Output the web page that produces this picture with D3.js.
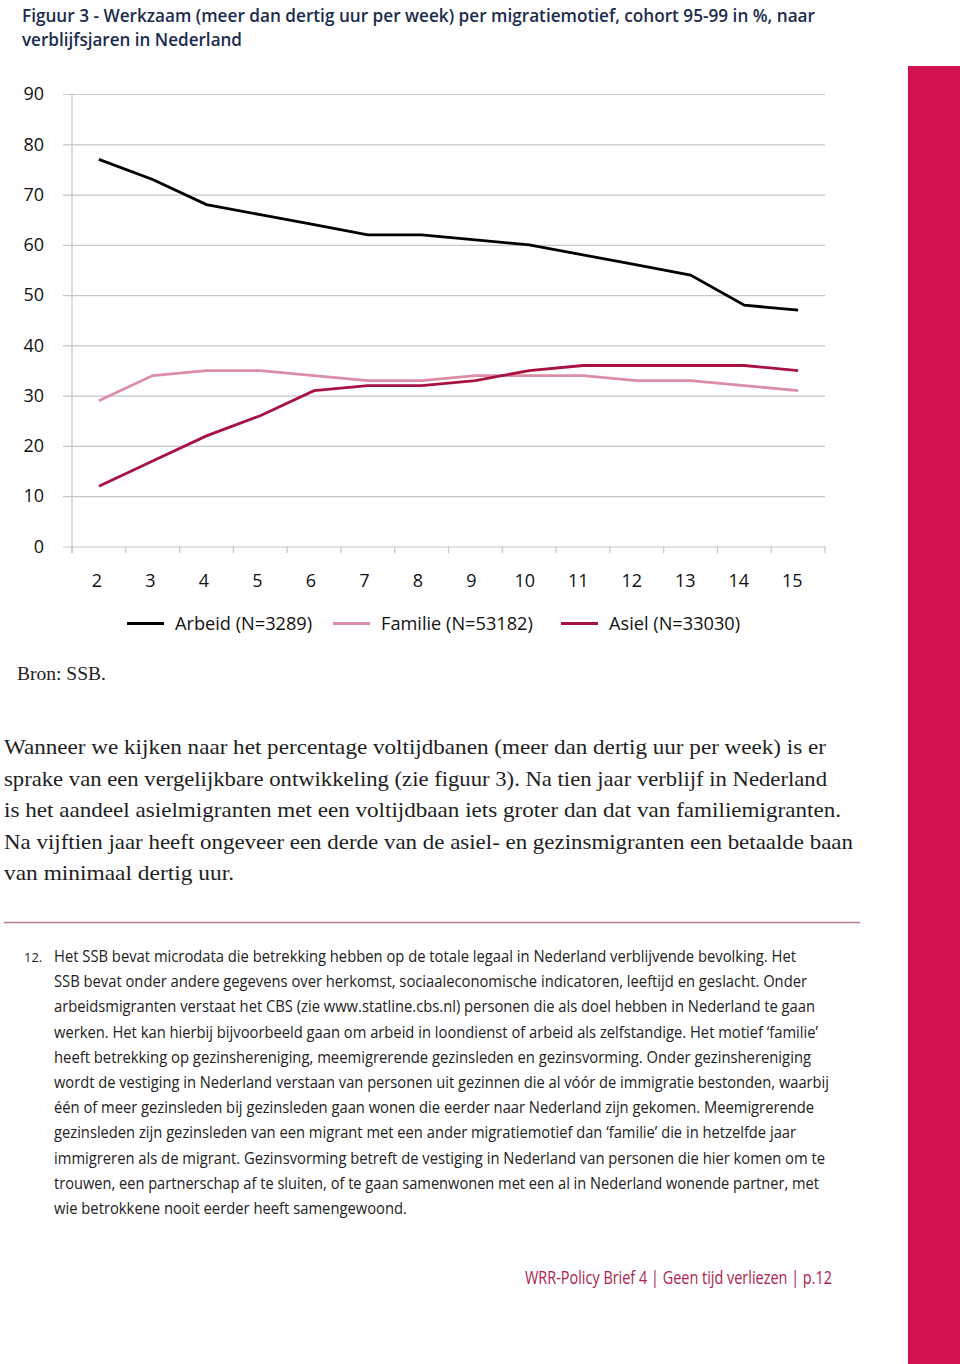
<!DOCTYPE html>
<html>
<head>
<meta charset="utf-8">
<script src="https://cdn.jsdelivr.net/npm/d3@7"></script>
<style>
  html, body { margin: 0; padding: 0; background: #fff; }
  svg { display: block; }
</style>
</head>
<body>
<script>
// ---- data ----
const years   = [2, 3, 4, 5, 6, 7, 8, 9, 10, 11, 12, 13, 14, 15];
const arbeid  = [77, 73, 68, 66, 64, 62, 62, 61, 60, 58, 56, 54, 48, 47];
const familie = [29, 34, 35, 35, 34, 33, 33, 34, 34, 34, 33, 33, 32, 31];
const asiel   = [12, 17, 22, 26, 31, 32, 32, 33, 35, 36, 36, 36, 36, 35];
const yTicks  = [0, 10, 20, 30, 40, 50, 60, 70, 80, 90];
const seriesNames = ["Arbeid (N=3289)", "Familie (N=53182)", "Asiel (N=33030)"];
const seriesColors = ["#000000", "#dc8ea4", "#a7123f"];

const titleLines = [
  "Figuur 3 - Werkzaam (meer dan dertig uur per week) per migratiemotief, cohort 95-99 in %, naar",
  "verblijfsjaren in Nederland"
];
const bodyLines = [
  "Wanneer we kijken naar het percentage voltijdbanen (meer dan dertig uur per week) is er",
  "sprake van een vergelijkbare ontwikkeling (zie figuur 3). Na tien jaar verblijf in Nederland",
  "is het aandeel asielmigranten met een voltijdbaan iets groter dan dat van familiemigranten.",
  "Na vijftien jaar heeft ongeveer een derde van de asiel- en gezinsmigranten een betaalde baan",
  "van minimaal dertig uur."
];
const bodyEnds = [826, 827, 841, 853, 234];
const noteLines = [
  "Het SSB bevat microdata die betrekking hebben op de totale legaal in Nederland verblijvende bevolking. Het",
  "SSB bevat onder andere gegevens over herkomst, sociaaleconomische indicatoren, leeftijd en geslacht. Onder",
  "arbeidsmigranten verstaat het CBS (zie www.statline.cbs.nl) personen die als doel hebben in Nederland te gaan",
  "werken. Het kan hierbij bijvoorbeeld gaan om arbeid in loondienst of arbeid als zelfstandige. Het motief \u2018familie\u2019",
  "heeft betrekking op gezinshereniging, meemigrerende gezinsleden en gezinsvorming. Onder gezinshereniging",
  "wordt de vestiging in Nederland verstaan van personen uit gezinnen die al v\u00f3\u00f3r de immigratie bestonden, waarbij",
  "\u00e9\u00e9n of meer gezinsleden bij gezinsleden gaan wonen die eerder naar Nederland zijn gekomen. Meemigrerende",
  "gezinsleden zijn gezinsleden van een migrant met een ander migratiemotief dan \u2018familie\u2019 die in hetzelfde jaar",
  "immigreren als de migrant. Gezinsvorming betreft de vestiging in Nederland van personen die hier komen om te",
  "trouwen, een partnerschap af te sluiten, of te gaan samenwonen met een al in Nederland wonende partner, met",
  "wie betrokkene nooit eerder heeft samengewoond."
];
const noteEnds = [796, 807, 815, 818, 811, 829, 814, 796, 825, 819, 407];

// ---- svg ----
const W = 960, H = 1364;
const svg = d3.select("body").append("svg").attr("width", W).attr("height", H);

// sidebar
svg.append("rect").attr("x", 908).attr("y", 66).attr("width", 52).attr("height", H - 66).attr("fill", "#d4114f");

// title
const sans = "'Open Sans', Lato, sans-serif";
const serif = "'Liberation Serif', 'DejaVu Serif', serif";
titleLines.forEach((t, i) => {
  const el = svg.append("text").attr("x", 22).attr("y", 22 + i * 24)
    .attr("font-family", sans).attr("font-weight", 600).attr("font-size", 18.5)
    .attr("fill", "#1b2c4e").text(t);
  el.attr("textLength", i === 0 ? 793 : 220).attr("lengthAdjust", "spacingAndGlyphs");
});

// scales
const x = d3.scaleBand().domain(years).range([72, 825]);
const y = d3.scaleLinear().domain([0, 90]).range([546.5, 94]);

// gridlines + y labels
const gy = svg.append("g").attr("transform", "translate(63,0)")
  .call(d3.axisLeft(y).tickValues(yTicks).tickSize(-(825 - 63)).tickPadding(19));
gy.select(".domain").remove();
gy.selectAll(".tick line").attr("stroke", "#c6c6c6").attr("stroke-width", 1.2);
gy.selectAll(".tick text").attr("font-family", sans).attr("font-size", 18).attr("fill", "#111");

// vertical axis line
svg.append("line").attr("x1", 72).attr("x2", 72).attr("y1", y(90)).attr("y2", 553)
  .attr("stroke", "#c6c6c6").attr("stroke-width", 1.2);

// x axis boundary ticks
const edges = years.map(d => x(d)).concat([x(years[years.length - 1]) + x.bandwidth()]);
svg.selectAll("line.xt").data(edges).enter().append("line").attr("class", "xt")
  .attr("x1", d => d).attr("x2", d => d).attr("y1", y(0)).attr("y2", 553)
  .attr("stroke", "#c6c6c6").attr("stroke-width", 1.2);

// x labels
const gx = svg.append("g").attr("transform", `translate(0,${y(0)})`)
  .call(d3.axisBottom(x).tickSize(0).tickPadding(28));
gx.select(".domain").remove();
gx.selectAll(".tick text").attr("font-family", sans).attr("font-size", 18).attr("fill", "#111")
  .attr("dx", (d, i) => -2 - i * 0.3);

// lines
const line = d3.line().x((d, i) => x(years[i]) + x.bandwidth() / 2).y(d => y(d));
[arbeid, familie, asiel].forEach((s, k) => {
  svg.append("path").datum(s).attr("d", line).attr("fill", "none")
    .attr("stroke", seriesColors[k]).attr("stroke-width", 2.8).attr("stroke-linejoin", "miter");
});

// legend
const legX = [127, 333, 561];
seriesNames.forEach((n, k) => {
  svg.append("line").attr("x1", legX[k]).attr("x2", legX[k] + 37).attr("y1", 623.5).attr("y2", 623.5)
    .attr("stroke", seriesColors[k]).attr("stroke-width", 3);
  svg.append("text").attr("x", legX[k] + 48).attr("y", 630)
    .attr("font-family", sans).attr("font-size", 18.2).attr("fill", "#111").text(n);
});

// source
svg.append("text").attr("x", 17).attr("y", 680).attr("font-family", serif).attr("font-size", 19.5)
  .attr("fill", "#222").text("Bron: SSB.");

// body text
bodyLines.forEach((t, i) => {
  svg.append("text").attr("x", 4).attr("y", 754 + i * 31.5)
    .attr("font-family", serif).attr("font-size", 21.5).attr("fill", "#1e1e1e")
    .attr("textLength", bodyEnds[i] - 4).attr("lengthAdjust", "spacingAndGlyphs").text(t);
});

// separator
svg.append("line").attr("x1", 4).attr("x2", 860).attr("y1", 922.5).attr("y2", 922.5)
  .attr("stroke", "#b87c97").attr("stroke-width", 1.3);

// footnote
svg.append("text").attr("x", 24).attr("y", 962).attr("font-family", sans).attr("font-size", 13)
  .attr("fill", "#222").text("12.");
noteLines.forEach((t, i) => {
  svg.append("text").attr("x", 54).attr("y", 962 + i * 25.2)
    .attr("font-family", sans).attr("font-size", 16).attr("fill", "#222")
    .attr("textLength", noteEnds[i] - 54).attr("lengthAdjust", "spacingAndGlyphs").text(t);
});

// footer
svg.append("text").attr("x", 525).attr("y", 1284).attr("font-family", sans).attr("font-size", 17.5)
  .attr("fill", "#ad1d4c").attr("textLength", 307).attr("lengthAdjust", "spacingAndGlyphs")
  .text("WRR-Policy Brief 4 | Geen tijd verliezen | p.12");
</script>
</body>
</html>
